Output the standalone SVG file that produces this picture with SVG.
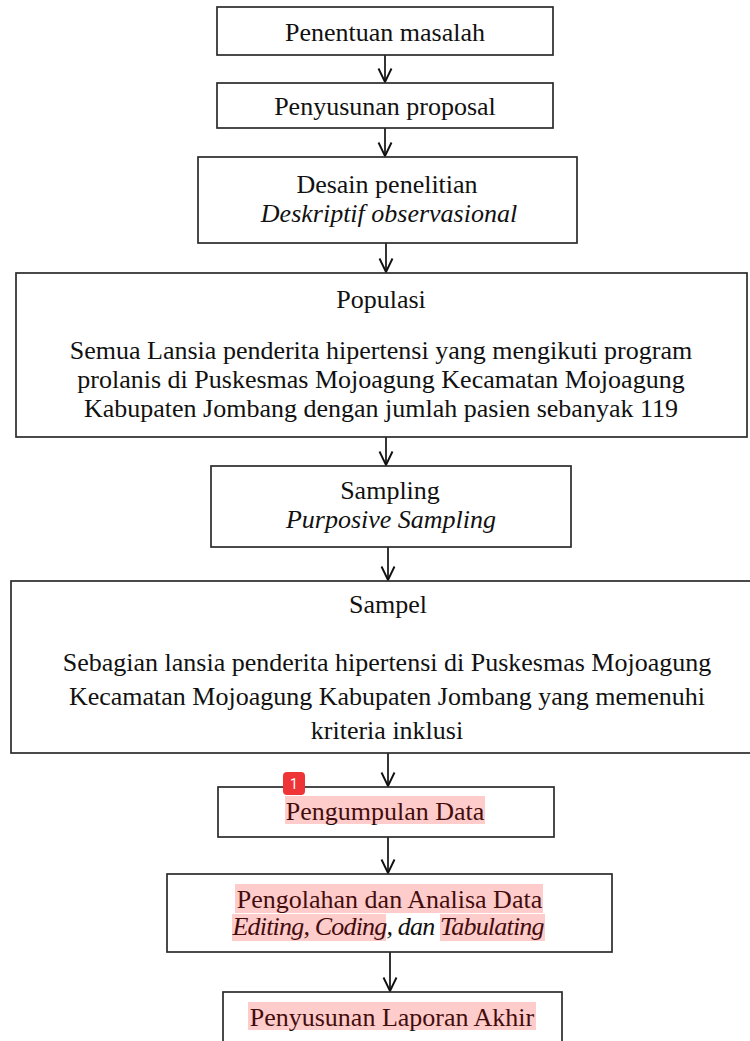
<svg xmlns="http://www.w3.org/2000/svg" width="750" height="1041" viewBox="0 0 750 1041">
<style>
.box{fill:#fff;stroke:#2b2b2b;stroke-width:1.7}
.t{font-family:"Liberation Serif","Times New Roman",serif;font-size:26px;fill:#111;text-anchor:middle}
.i{font-style:italic}
.c{stroke:#111;stroke-width:1.7;fill:none}
.hl{fill:#ff0000;fill-opacity:0.2}
</style>
<defs>
<marker id="v" viewBox="-15 -8 17 16" refX="0" refY="0" markerWidth="17" markerHeight="16" markerUnits="userSpaceOnUse" orient="auto">
<path d="M-13.5,-6.5 L0,0 L-13.5,6.5" fill="none" stroke="#111" stroke-width="1.9"/>
</marker>
</defs>
<rect width="750" height="1041" fill="#fff"/>
<g id="connectors">
<line class="c" x1="385" y1="55" x2="385" y2="82" marker-end="url(#v)"/>
<line class="c" x1="385" y1="128" x2="385" y2="156" marker-end="url(#v)"/>
<line class="c" x1="386" y1="243" x2="386" y2="272" marker-end="url(#v)"/>
<line class="c" x1="386" y1="437" x2="386" y2="465" marker-end="url(#v)"/>
<line class="c" x1="388" y1="547" x2="388" y2="580" marker-end="url(#v)"/>
<line class="c" x1="388" y1="753" x2="388" y2="786" marker-end="url(#v)"/>
<line class="c" x1="388" y1="837" x2="388" y2="873" marker-end="url(#v)"/>
<line class="c" x1="390" y1="952" x2="390" y2="991" marker-end="url(#v)"/>
</g>
<g id="n1">
<rect class="box" x="217" y="7" width="336" height="48"/>
<text class="t" x="385" y="41">Penentuan masalah</text>
</g>
<g id="n2">
<rect class="box" x="217" y="83" width="336" height="45"/>
<text class="t" x="385" y="115">Penyusunan proposal</text>
</g>
<g id="n3">
<rect class="box" x="198" y="157" width="379" height="86"/>
<text class="t" x="387" y="193">Desain penelitian</text>
<text class="t i" x="389" y="222">Deskriptif observasional</text>
</g>
<g id="n4">
<rect class="box" x="16" y="273" width="731" height="164"/>
<text class="t" x="381" y="308">Populasi</text>
<text class="t" x="381" y="359">Semua Lansia penderita hipertensi yang mengikuti program</text>
<text class="t" x="381" y="388">prolanis di Puskesmas Mojoagung Kecamatan Mojoagung</text>
<text class="t" x="381" y="417">Kabupaten Jombang dengan jumlah pasien sebanyak 119</text>
</g>
<g id="n5">
<rect class="box" x="211" y="466" width="360" height="81"/>
<text class="t" x="390" y="499">Sampling</text>
<text class="t i" x="391" y="528">Purposive Sampling</text>
</g>
<g id="n6">
<rect class="box" x="11" y="581" width="745" height="172"/>
<text class="t" x="388" y="613">Sampel</text>
<text class="t" x="387" y="671">Sebagian lansia penderita hipertensi di Puskesmas Mojoagung</text>
<text class="t" x="387" y="705">Kecamatan Mojoagung Kabupaten Jombang yang memenuhi</text>
<text class="t" x="387" y="739">kriteria inklusi</text>
</g>
<g id="n7">
<rect class="box" x="218" y="787" width="336" height="50"/>
<text class="t" x="385" y="820">Pengumpulan Data</text>
<rect class="hl" x="285" y="796" width="200" height="28"/>
<rect x="283" y="772" width="22" height="23" rx="4" fill="#ef3438"/>
<text x="294" y="789" font-family="Roboto, 'Liberation Sans', sans-serif" font-size="14" fill="#fff" text-anchor="middle">1</text>
</g>
<g id="n8">
<rect class="box" x="167" y="874" width="445" height="78"/>
<text class="t" x="389.5" y="908">Pengolahan dan Analisa Data</text>
<text class="t i" x="388.5" y="935" font-size="21" textLength="312" lengthAdjust="spacing">Editing, Coding, dan Tabulating</text>
<rect class="hl" x="235" y="884" width="308" height="29"/>
<rect class="hl" x="232" y="914" width="154" height="27"/>
<rect class="hl" x="440" y="914" width="105" height="27"/>
</g>
<g id="n9">
<rect class="box" x="223" y="992" width="339" height="60"/>
<text class="t" x="392" y="1026">Penyusunan Laporan Akhir</text>
<rect class="hl" x="248" y="1002" width="288" height="28"/>
</g>
</svg>
